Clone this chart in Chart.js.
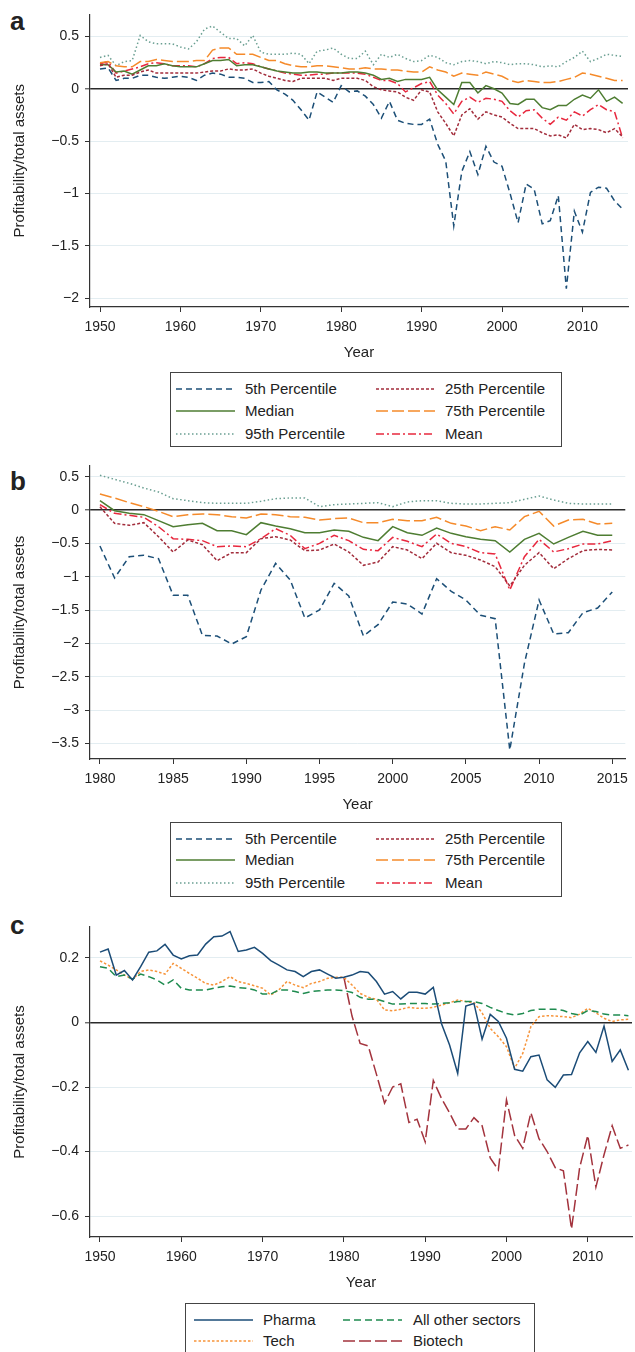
<!DOCTYPE html>
<html>
<head>
<meta charset="utf-8">
<title>Profitability/total assets</title>
<script src="https://cdn.jsdelivr.net/npm/chart.js@4.4.1/dist/chart.umd.min.js"></script>
<style>
  body { margin: 0; background: #fff; }
  #page { position: relative; width: 635px; height: 1352px; overflow: hidden; background: #fff;
          font-family: "Liberation Sans", Arial, sans-serif; color: #222; }
  #page canvas { position: absolute; left: 0; }
  .tag { position: absolute; left: 10px; font-weight: bold; font-size: 26px; line-height: 26px; }
  .legend { position: absolute; border: 1px solid #444; box-sizing: border-box; font-size: 15px; }
</style>
</head>
<body>
<div id="page">
  <div class="tag" style="top:8px">a</div>
  <div class="tag" style="top:468px">b</div>
  <div class="tag" style="top:912px">c</div>
  <canvas id="chartA" width="635" height="365" style="top:0px"></canvas>
  <canvas id="chartB" width="635" height="367" style="top:450px"></canvas>
  <canvas id="chartC" width="635" height="385" style="top:910px"></canvas>
</div>
<script>
// years
const yearsLong = [1950, 1951, 1952, 1953, 1954, 1955, 1956, 1957, 1958, 1959,
  1960, 1961, 1962, 1963, 1964, 1965, 1966, 1967, 1968, 1969,
  1970, 1971, 1972, 1973, 1974, 1975, 1976, 1977, 1978, 1979,
  1980, 1981, 1982, 1983, 1984, 1985, 1986, 1987, 1988, 1989,
  1990, 1991, 1992, 1993, 1994, 1995, 1996, 1997, 1998, 1999,
  2000, 2001, 2002, 2003, 2004, 2005, 2006, 2007, 2008, 2009,
  2010, 2011, 2012, 2013, 2014, 2015];
const yearsShort = [1980, 1981, 1982, 1983, 1984, 1985, 1986, 1987, 1988, 1989,
  1990, 1991, 1992, 1993, 1994, 1995, 1996, 1997, 1998, 1999,
  2000, 2001, 2002, 2003, 2004, 2005, 2006, 2007, 2008, 2009,
  2010, 2011, 2012, 2013, 2014, 2015];

// panel a, 1950-2015
const aP5 = [0.19, 0.20, 0.08, 0.10, 0.10, 0.13, 0.13, 0.11, 0.10, 0.11,
  0.12, 0.11, 0.08, 0.13, 0.15, 0.14, 0.11, 0.11, 0.10, 0.06,
  0.06, 0.07, -0.01, -0.05, -0.11, -0.20, -0.30, -0.03, -0.08, -0.13,
  0.03, -0.03, -0.02, -0.07, -0.15, -0.28, -0.12, -0.30, -0.33, -0.34,
  -0.34, -0.29, -0.53, -0.69, -1.31, -0.79, -0.60, -0.82, -0.55, -0.70,
  -0.74, -1.00, -1.28, -0.91, -0.96, -1.29, -1.26, -1.02, -1.91, -1.17,
  -1.37, -0.99, -0.94, -0.95, -1.07, -1.15];
const aP25 = [0.22, 0.24, 0.11, 0.13, 0.13, 0.16, 0.18, 0.15, 0.15, 0.15,
  0.15, 0.15, 0.15, 0.16, 0.17, 0.17, 0.19, 0.18, 0.18, 0.19,
  0.15, 0.12, 0.10, 0.08, 0.07, 0.10, 0.10, 0.10, 0.10, 0.08,
  0.10, 0.10, 0.10, 0.08, 0.02, -0.01, -0.02, -0.03, -0.08, -0.11,
  -0.01, -0.03, -0.22, -0.33, -0.45, -0.25, -0.19, -0.29, -0.22, -0.25,
  -0.27, -0.33, -0.38, -0.38, -0.38, -0.42, -0.45, -0.44, -0.47, -0.34,
  -0.39, -0.38, -0.39, -0.42, -0.38, -0.46];
const aMedian = [0.23, 0.23, 0.16, 0.17, 0.14, 0.18, 0.22, 0.22, 0.24, 0.22,
  0.21, 0.21, 0.21, 0.24, 0.27, 0.27, 0.28, 0.22, 0.23, 0.23,
  0.21, 0.19, 0.17, 0.16, 0.15, 0.15, 0.16, 0.16, 0.15, 0.15,
  0.15, 0.16, 0.16, 0.15, 0.13, 0.09, 0.10, 0.07, 0.09, 0.09,
  0.09, 0.11, -0.01, -0.08, -0.15, 0.06, 0.06, -0.04, 0.03, 0.00,
  -0.04, -0.14, -0.15, -0.10, -0.10, -0.18, -0.20, -0.16, -0.16, -0.10,
  -0.06, -0.09, -0.01, -0.12, -0.08, -0.14];
const aP75 = [0.25, 0.26, 0.22, 0.21, 0.21, 0.26, 0.26, 0.28, 0.27, 0.26,
  0.26, 0.26, 0.27, 0.27, 0.37, 0.39, 0.39, 0.33, 0.33, 0.33,
  0.30, 0.27, 0.27, 0.24, 0.22, 0.21, 0.21, 0.22, 0.22, 0.21,
  0.20, 0.19, 0.19, 0.20, 0.19, 0.19, 0.18, 0.18, 0.17, 0.16,
  0.16, 0.21, 0.18, 0.16, 0.12, 0.15, 0.14, 0.13, 0.16, 0.14,
  0.12, 0.08, 0.06, 0.08, 0.07, 0.06, 0.06, 0.07, 0.09, 0.11,
  0.15, 0.14, 0.12, 0.10, 0.08, 0.08];
const aP95 = [0.30, 0.32, 0.22, 0.26, 0.27, 0.51, 0.45, 0.43, 0.43, 0.43,
  0.40, 0.38, 0.45, 0.57, 0.60, 0.54, 0.48, 0.48, 0.41, 0.51,
  0.35, 0.33, 0.33, 0.33, 0.34, 0.33, 0.24, 0.36, 0.37, 0.39,
  0.33, 0.29, 0.29, 0.36, 0.23, 0.33, 0.30, 0.33, 0.29, 0.26,
  0.27, 0.32, 0.30, 0.25, 0.23, 0.26, 0.27, 0.26, 0.24, 0.26,
  0.25, 0.23, 0.24, 0.24, 0.23, 0.21, 0.22, 0.21, 0.26, 0.30,
  0.36, 0.26, 0.29, 0.33, 0.32, 0.31];
const aMean = [0.24, 0.26, 0.15, 0.17, 0.19, 0.21, 0.24, 0.25, 0.24, 0.22,
  0.22, 0.22, 0.21, 0.24, 0.29, 0.30, 0.30, 0.24, 0.25, 0.24,
  0.21, 0.19, 0.17, 0.15, 0.14, 0.13, 0.13, 0.14, 0.14, 0.15,
  0.15, 0.15, 0.15, 0.14, 0.11, 0.08, 0.08, 0.05, -0.03, 0.01,
  0.05, 0.07, -0.06, -0.14, -0.24, -0.12, -0.08, -0.13, -0.09, -0.10,
  -0.12, -0.21, -0.27, -0.21, -0.20, -0.28, -0.34, -0.27, -0.30, -0.22,
  -0.26, -0.20, -0.15, -0.20, -0.22, -0.47];

// panel b, 1980-2015
const bP5 = [-0.54, -1.02, -0.70, -0.68, -0.73, -1.28, -1.28, -1.88, -1.89, -2.01,
  -1.90, -1.20, -0.80, -1.05, -1.62, -1.50, -1.10, -1.29, -1.89, -1.72,
  -1.38, -1.41, -1.56, -1.03, -1.22, -1.35, -1.58, -1.63, -3.60, -2.30,
  -1.35, -1.86, -1.84, -1.54, -1.47, -1.23];
const bP25 = [0.05, -0.20, -0.23, -0.19, -0.40, -0.63, -0.45, -0.52, -0.76, -0.64,
  -0.64, -0.43, -0.40, -0.45, -0.61, -0.60, -0.51, -0.63, -0.83, -0.78,
  -0.55, -0.60, -0.73, -0.50, -0.64, -0.68, -0.75, -0.85, -1.14, -0.83,
  -0.64, -0.88, -0.73, -0.61, -0.59, -0.60];
const bMedian = [0.14, -0.01, -0.05, -0.07, -0.16, -0.25, -0.22, -0.20, -0.31, -0.31,
  -0.37, -0.19, -0.24, -0.28, -0.34, -0.34, -0.30, -0.32, -0.41, -0.46,
  -0.25, -0.34, -0.38, -0.27, -0.35, -0.40, -0.44, -0.46, -0.63, -0.44,
  -0.35, -0.51, -0.41, -0.32, -0.38, -0.38];
const bP75 = [0.24, 0.18, 0.11, 0.05, -0.02, -0.10, -0.07, -0.06, -0.07, -0.10,
  -0.12, -0.06, -0.07, -0.10, -0.11, -0.15, -0.13, -0.12, -0.19, -0.19,
  -0.14, -0.16, -0.16, -0.11, -0.20, -0.24, -0.31, -0.25, -0.30, -0.10,
  -0.02, -0.24, -0.15, -0.14, -0.21, -0.20];
const bP95 = [0.52, 0.46, 0.40, 0.33, 0.27, 0.17, 0.14, 0.11, 0.10, 0.10,
  0.10, 0.13, 0.17, 0.18, 0.18, 0.05, 0.08, 0.09, 0.10, 0.11,
  0.05, 0.12, 0.14, 0.14, 0.10, 0.09, 0.09, 0.10, 0.11, 0.16,
  0.21, 0.15, 0.10, 0.09, 0.09, 0.09];
const bMean = [0.08, -0.05, -0.08, -0.11, -0.25, -0.43, -0.44, -0.46, -0.55, -0.54,
  -0.55, -0.43, -0.28, -0.38, -0.58, -0.50, -0.38, -0.46, -0.59, -0.61,
  -0.41, -0.47, -0.55, -0.36, -0.50, -0.55, -0.64, -0.66, -1.20, -0.70,
  -0.44, -0.63, -0.58, -0.51, -0.51, -0.46];

// panel c, 1950-2015 (biotech from 1980)
const cPharma = [0.218, 0.228, 0.147, 0.161, 0.132, 0.173, 0.218, 0.222, 0.242, 0.209,
  0.197, 0.207, 0.209, 0.243, 0.266, 0.268, 0.282, 0.220, 0.225, 0.233,
  0.214, 0.192, 0.178, 0.163, 0.158, 0.142, 0.158, 0.163, 0.150, 0.137,
  0.140, 0.147, 0.158, 0.155, 0.127, 0.088, 0.096, 0.073, 0.094, 0.094,
  0.088, 0.109, -0.003, -0.070, -0.158, 0.051, 0.059, -0.052, 0.025, 0.003,
  -0.049, -0.145, -0.151, -0.106, -0.101, -0.178, -0.201, -0.163, -0.161, -0.094,
  -0.059, -0.093, -0.011, -0.121, -0.085, -0.148];
const cTech = [0.191, 0.178, 0.163, 0.147, 0.134, 0.158, 0.163, 0.158, 0.150, 0.183,
  0.168, 0.152, 0.137, 0.121, 0.116, 0.127, 0.142, 0.127, 0.121, 0.114,
  0.106, 0.085, 0.101, 0.127, 0.116, 0.108, 0.121, 0.127, 0.137, 0.140,
  0.140, 0.116, 0.090, 0.078, 0.072, 0.039, 0.036, 0.041, 0.047, 0.044,
  0.044, 0.047, 0.054, 0.061, 0.070, 0.065, 0.061, 0.030, -0.018, -0.044,
  -0.075, -0.142, -0.096, -0.013, 0.018, 0.021, 0.020, 0.018, 0.015, 0.026,
  0.044, 0.030, 0.013, 0.003, 0.008, 0.010];
const cOther = [0.173, 0.168, 0.142, 0.147, 0.134, 0.150, 0.142, 0.132, 0.116, 0.132,
  0.106, 0.101, 0.101, 0.101, 0.106, 0.111, 0.113, 0.108, 0.106, 0.101,
  0.088, 0.088, 0.101, 0.101, 0.096, 0.090, 0.096, 0.098, 0.101, 0.101,
  0.099, 0.093, 0.078, 0.072, 0.072, 0.065, 0.057, 0.057, 0.059, 0.059,
  0.059, 0.057, 0.059, 0.061, 0.065, 0.065, 0.065, 0.059, 0.047, 0.037,
  0.028, 0.023, 0.028, 0.037, 0.041, 0.041, 0.041, 0.037, 0.028, 0.023,
  0.037, 0.034, 0.026, 0.023, 0.023, 0.021];
const cBiotech = [0.14, 0.02, -0.065, -0.073, -0.16, -0.25, -0.20, -0.19, -0.31, -0.30,
  -0.37, -0.18, -0.235, -0.28, -0.33, -0.33, -0.295, -0.32, -0.42, -0.457,
  -0.24, -0.35, -0.39, -0.28, -0.36, -0.40, -0.45, -0.46, -0.64, -0.45,
  -0.35, -0.51, -0.41, -0.32, -0.39, -0.38];

// tick labels
const xTicksAC = [1950, 1960, 1970, 1980, 1990, 2000, 2010];
const xTicksB = [1980, 1985, 1990, 1995, 2000, 2005, 2010, 2015];
const yTicksA = [0.5, 0, -0.5, -1, -1.5, -2];
const yTicksB = [0.5, 0, -0.5, -1, -1.5, -2, -2.5, -3, -3.5];
const yTicksC = [0.2, 0, -0.2, -0.4, -0.6];

const FONT = '"Liberation Sans", Arial, sans-serif';

const pctStyles = {
  p5:   { color: '#1c4f77', dash: [6, 4] },
  p25:  { color: '#a22c3b', dash: [3, 2] },
  med:  { color: '#4e7d32', dash: [] },
  p75:  { color: '#f58a2a', dash: [12, 4] },
  p95:  { color: '#6a9f92', dash: [1.5, 2.5] },
  mean: { color: '#e8283e', dash: [8, 3, 2, 3] }
};

function pctSeries(x, p5, p25, med, p75, p95, mean) {
  return [
    Object.assign({ label: '5th Percentile', x: x, y: p5 }, pctStyles.p5),
    Object.assign({ label: '25th Percentile', x: x, y: p25 }, pctStyles.p25),
    Object.assign({ label: 'Median', x: x, y: med }, pctStyles.med),
    Object.assign({ label: '75th Percentile', x: x, y: p75 }, pctStyles.p75),
    Object.assign({ label: '95th Percentile', x: x, y: p95 }, pctStyles.p95),
    Object.assign({ label: 'Mean', x: x, y: mean }, pctStyles.mean)
  ];
}

const seriesA = pctSeries(yearsLong, aP5, aP25, aMedian, aP75, aP95, aMean);
const seriesB = pctSeries(yearsShort, bP5, bP25, bMedian, bP75, bP95, bMean);
const seriesC = [
  { label: 'Pharma', x: yearsLong, y: cPharma, color: '#1b4c77', dash: [] },
  { label: 'All other sectors', x: yearsLong, y: cOther, color: '#1e8b4f', dash: [7, 4] },
  { label: 'Tech', x: yearsLong, y: cTech, color: '#f7943a', dash: [2.5, 2] },
  { label: 'Biotech', x: yearsShort, y: cBiotech, color: '#a3333d', dash: [12, 4] }
];

const fmt = v => (v < 0 ? '\u2212' : '') + String(Math.abs(v));

function makePanel(id, o) {
  return new Chart(document.getElementById(id), {
    type: 'line',
    data: {
      datasets: o.series.map(s => ({
        label: s.label,
        data: s.x.map((x, i) => ({ x: x, y: s.y[i] })),
        borderColor: s.color,
        borderWidth: 1.5,
        borderDash: s.dash,
        pointRadius: 0,
        tension: 0,
        fill: false
      }))
    },
    options: {
      responsive: false,
      animation: false,
      devicePixelRatio: 1,
      layout: { padding: { top: o.padTop, right: o.padRight, left: 0, bottom: 0 } },
      plugins: { legend: { display: false }, tooltip: { enabled: false } },
      scales: {
        x: {
          type: 'linear',
          min: o.xMin,
          max: o.xMax,
          afterBuildTicks: sc => { sc.ticks = o.xTicks.map(v => ({ value: v })); },
          afterFit: sc => { sc.height = 58; },
          ticks: { color: '#222', font: { family: FONT, size: 14 }, padding: 7,
                   maxRotation: 0, autoSkip: false, callback: v => String(v) },
          grid: { display: true, drawOnChartArea: false, drawTicks: true, tickLength: 5,
                  tickColor: '#333', tickWidth: 1 },
          border: { display: true, color: '#333', width: 1.2 },
          title: { display: true, text: 'Year', color: '#222',
                   font: { family: FONT, size: 15 }, padding: { top: 0, bottom: 3 } }
        },
        y: {
          type: 'linear',
          min: o.yMin,
          max: o.yMax,
          afterBuildTicks: sc => { sc.ticks = o.yTicks.map(v => ({ value: v })); },
          afterFit: sc => { sc.width = 90; },
          ticks: { color: '#222', font: { family: FONT, size: 14 }, padding: 6,
                   autoSkip: false, callback: v => fmt(v) },
          grid: {
            color: c => (c.tick && c.tick.value === 0) ? '#2a2a2a' : '#e3edf1',
            lineWidth: c => (c.tick && c.tick.value === 0) ? 1.6 : 1,
            drawTicks: true, tickLength: 5, tickColor: '#333', tickWidth: 1
          },
          border: { display: true, color: '#333', width: 1.2 },
          title: { display: true, text: 'Profitability/total assets', color: '#222',
                   font: { family: FONT, size: 15 }, padding: { top: 11, bottom: 0 } }
        }
      }
    }
  });
}

function drawLegend(spec, series, order) {
  const box = document.createElement('div');
  box.className = 'legend';
  box.style.left = spec.left + 'px';
  box.style.top = spec.top + 'px';
  box.style.width = spec.width + 'px';
  box.style.height = spec.height + 'px';
  order.forEach((name, i) => {
    const s = series.find(d => d.label === name);
    const col = i % 2, row = Math.floor(i / 2);
    const y = spec.rows[row];
    const dash = s.dash.length ? s.dash.join(',') : 'none';
    box.insertAdjacentHTML('beforeend',
      '<svg width="59" height="6" style="position:absolute;left:' + spec.sampleX[col] + 'px;top:' + (y - 3) + 'px">' +
      '<line x1="0" y1="3" x2="59" y2="3" stroke="' + s.color + '" stroke-width="1.5" stroke-dasharray="' + dash + '"/></svg>' +
      '<span style="position:absolute;white-space:nowrap;left:' + spec.textX[col] + 'px;top:' + (y - 9) + 'px;line-height:18px">' + s.label + '</span>');
  });
  document.getElementById('page').appendChild(box);
}

makePanel('chartA', { series: seriesA, padTop: 12, padRight: 7,
  xMin: 1948.756, xMax: 2015.67, xTicks: xTicksAC, yMin: -2.085, yMax: 0.711, yTicks: yTicksA });
makePanel('chartB', { series: seriesB, padTop: 16, padRight: 7,
  xMin: 1979.32, xMax: 2015.89, xTicks: xTicksB, yMin: -3.735, yMax: 0.66, yTicks: yTicksB });
makePanel('chartC', { series: seriesC, padTop: 17, padRight: 3,
  xMin: 1948.77, xMax: 2015.44, xTicks: xTicksAC, yMin: -0.665, yMax: 0.296, yTicks: yTicksC });

const pctOrder = ['5th Percentile', '25th Percentile', 'Median', '75th Percentile', '95th Percentile', 'Mean'];
drawLegend({ left: 170, top: 372, width: 392, height: 75, rows: [16, 38, 61],
  sampleX: [5, 205], textX: [74, 274] }, seriesA, pctOrder);
drawLegend({ left: 170, top: 822, width: 392, height: 75, rows: [16, 37, 60],
  sampleX: [5, 205], textX: [74, 274] }, seriesB, pctOrder);
drawLegend({ left: 185, top: 1303, width: 350, height: 60, rows: [16, 37],
  sampleX: [8, 157], textX: [77, 227] }, seriesC, ['Pharma', 'All other sectors', 'Tech', 'Biotech']);
</script>
</body>
</html>
